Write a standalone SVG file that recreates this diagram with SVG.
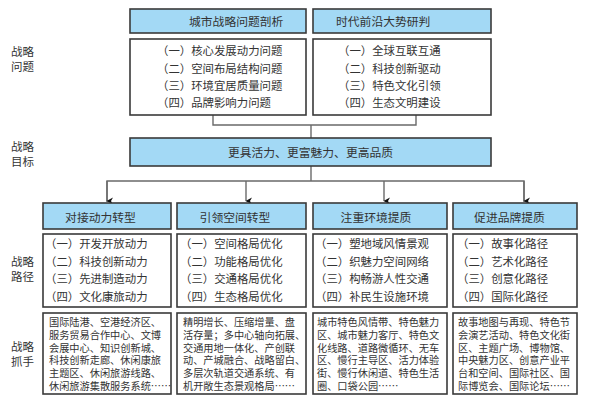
<svg xmlns="http://www.w3.org/2000/svg" width="594" height="403" viewBox="0 0 594 403">
<defs>
<style>
text{font-family:"Noto Sans CJK SC","Noto Sans",sans-serif;fill:#333;}
.box{fill:#fff;stroke:#3a3a3a;stroke-width:1.6;}
.hd{fill:#a3d9f5;stroke:#3a3a3a;stroke-width:1.6;}
.t12{font-size:11.8px;}
.t11{font-size:11.4px;}
.t10{font-size:10.2px;}
.side{font-size:11.5px;}
.con{fill:none;stroke:#6a6a6a;stroke-width:1.4;}
.mid{text-anchor:middle;}
</style>
<marker id="ah" markerWidth="8" markerHeight="8" refX="4" refY="7" orient="auto" markerUnits="userSpaceOnUse">
<path d="M0.5,1 L4,7.5 L7.5,1 L4,3 Z" fill="#111"/>
</marker>
</defs>
<rect width="594" height="403" fill="#fff"/>

<g id="labels" class="side">
<text x="11" y="56" class="side">战略</text>
<text x="11" y="71" class="side">问题</text>
<text x="11" y="151" class="side">战略</text>
<text x="11" y="166" class="side">目标</text>
<text x="11" y="266" class="side">战略</text>
<text x="11" y="281" class="side">路径</text>
<text x="11" y="351" class="side">战略</text>
<text x="11" y="366" class="side">抓手</text>
</g>

<g id="connectors">
<path class="con" d="M213,115 V125 H416 V115"/>
<path class="con" d="M311,125 V138"/>
<path class="con" d="M311,166 V181"/>
<path class="con" d="M107,202 V181 H524 V202"/>
<path class="con" d="M107,181 V201" marker-end="url(#ah)"/>
<path class="con" d="M246,181 V201" marker-end="url(#ah)"/>
<path class="con" d="M384,181 V201" marker-end="url(#ah)"/>
<path class="con" d="M524,181 V201" marker-end="url(#ah)"/>
</g>

<g id="problem-city">
<rect class="hd" x="130" y="9" width="176" height="24"/>
<text class="t12" x="189" y="25.5">城市战略问题剖析</text>
<rect class="box" x="130" y="39" width="176" height="76"/>
<text class="t11" x="157" y="55">（一）核心发展动力问题</text>
<text class="t11" x="157" y="72.5">（二）空间布局结构问题</text>
<text class="t11" x="157" y="90">（三）环境宜居质量问题</text>
<text class="t11" x="157" y="107">（四）品牌影响力问题</text>
</g>

<g id="problem-trend">
<rect class="hd" x="313" y="9" width="178" height="24"/>
<text class="t12" x="336" y="25.5">时代前沿大势研判</text>
<rect class="box" x="313" y="39" width="178" height="76"/>
<text class="t11" x="338" y="55">（一）全球互联互通</text>
<text class="t11" x="338" y="72.5">（二）科技创新驱动</text>
<text class="t11" x="338" y="90">（三）特色文化引领</text>
<text class="t11" x="338" y="107">（四）生态文明建设</text>
</g>

<g id="goal">
<rect class="hd" x="130" y="138" width="361" height="28"/>
<text class="t12 mid" x="310.5" y="156.5">更具活力、更富魅力、更高品质</text>
</g>

<g id="col1">
<rect class="hd" x="43" y="203" width="128" height="26"/>
<text class="t12 mid" x="100.5" y="221.5">对接动力转型</text>
<rect class="box" x="43" y="234" width="128" height="73"/>
<text class="t11" x="45" y="248">（一）开发开放动力</text>
<text class="t11" x="45" y="265.5">（二）科技创新动力</text>
<text class="t11" x="45" y="283">（三）先进制造动力</text>
<text class="t11" x="45" y="301">（四）文化康旅动力</text>
<rect class="box" x="43" y="313" width="128" height="81"/>
<text class="t10" x="49" y="326">国际陆港、空港经济区、</text>
<text class="t10" x="49" y="338.8">服务贸易合作中心、文博</text>
<text class="t10" x="49" y="351.6">会展中心、知识创新城、</text>
<text class="t10" x="49" y="364.4">科技创新走廊、休闲康旅</text>
<text class="t10" x="49" y="377.2">主题区、休闲旅游线路、</text>
<text class="t10" x="49" y="390">休闲旅游集散服务系统……</text>
</g>

<g id="col2">
<rect class="hd" x="177" y="203" width="129" height="26"/>
<text class="t12 mid" x="235" y="221.5">引领空间转型</text>
<rect class="box" x="177" y="234" width="129" height="73"/>
<text class="t11" x="180" y="248">（一）空间格局优化</text>
<text class="t11" x="180" y="265.5">（二）功能格局优化</text>
<text class="t11" x="180" y="283">（三）交通格局优化</text>
<text class="t11" x="180" y="301">（四）生态格局优化</text>
<rect class="box" x="177" y="313" width="129" height="81"/>
<text class="t10" x="183" y="326">精明增长、压缩增量、盘</text>
<text class="t10" x="183" y="338.8">活存量；多中心轴向拓展、</text>
<text class="t10" x="183" y="351.6">交通用地一体化、产创联</text>
<text class="t10" x="183" y="364.4">动、产城融合、战略留白、</text>
<text class="t10" x="183" y="377.2">多层次轨道交通系统、有</text>
<text class="t10" x="183" y="390">机开敞生态景观格局……</text>
</g>

<g id="col3">
<rect class="hd" x="313" y="203" width="134" height="26"/>
<text class="t12 mid" x="376" y="221.5">注重环境提质</text>
<rect class="box" x="313" y="234" width="134" height="73"/>
<text class="t11" x="315" y="248">（一）塑地域风情景观</text>
<text class="t11" x="315" y="265.5">（二）织魅力空间网络</text>
<text class="t11" x="315" y="283">（三）构畅游人性交通</text>
<text class="t11" x="315" y="301">（四）补民生设施环境</text>
<rect class="box" x="313" y="313" width="134" height="81"/>
<text class="t10" x="317" y="326">城市特色风情带、特色魅力</text>
<text class="t10" x="317" y="338.8">区、城市魅力客厅、特色文</text>
<text class="t10" x="317" y="351.6">化线路、道路微循环、无车</text>
<text class="t10" x="317" y="364.4">区、慢行主导区、活力体验</text>
<text class="t10" x="317" y="377.2">街、慢行休闲道、特色生活</text>
<text class="t10" x="317" y="390">圈、口袋公园……</text>
</g>

<g id="col4">
<rect class="hd" x="453" y="203" width="124" height="26"/>
<text class="t12 mid" x="509.5" y="221.5">促进品牌提质</text>
<rect class="box" x="453" y="234" width="124" height="73"/>
<text class="t11" x="457" y="248">（一）故事化路径</text>
<text class="t11" x="457" y="265.5">（二）艺术化路径</text>
<text class="t11" x="457" y="283">（三）创意化路径</text>
<text class="t11" x="457" y="301">（四）国际化路径</text>
<rect class="box" x="453" y="313" width="124" height="81"/>
<text class="t10" x="458" y="326">故事地图与再现、特色节</text>
<text class="t10" x="458" y="338.8">会演艺活动、特色文化街</text>
<text class="t10" x="458" y="351.6">区、主题广场、博物馆、</text>
<text class="t10" x="458" y="364.4">中央魅力区、创意产业平</text>
<text class="t10" x="458" y="377.2">台和空间、国际社区、国</text>
<text class="t10" x="458" y="390">际博览会、国际论坛……</text>
</g>
</svg>
